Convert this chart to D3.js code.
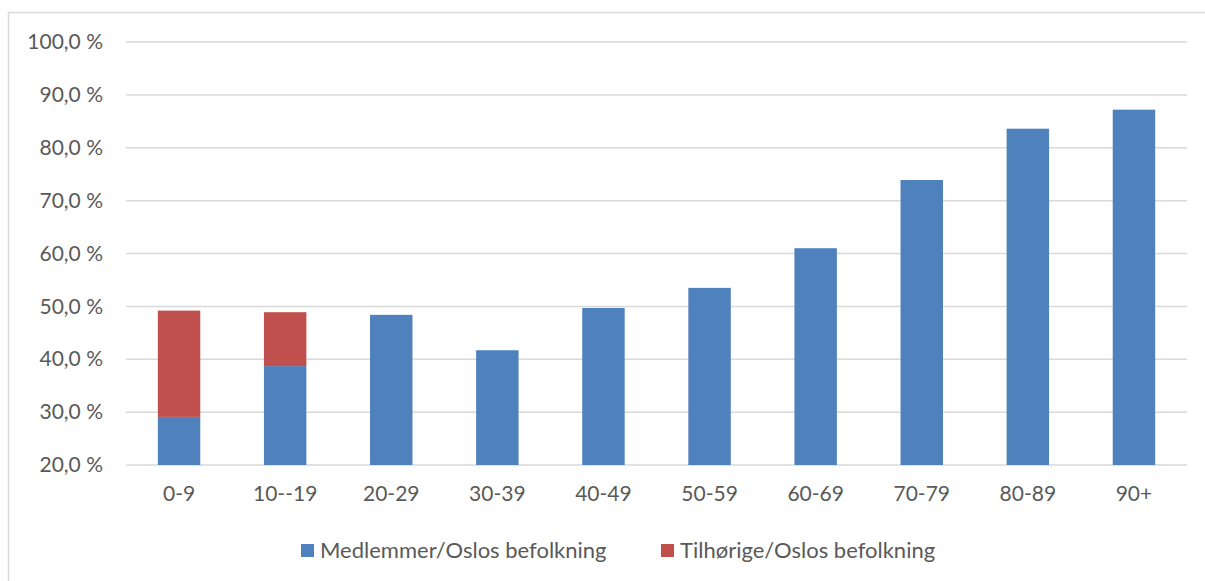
<html lang="no">
<head>
<meta charset="UTF-8">
<title>Medlemmer og tilhørige</title>
<style>
    body { margin: 0; background: #fff; }
    text { font-family: Lato, "Open Sans", sans-serif; fill: #595959; }
    .grid line { stroke: #d9d9d9; stroke-width: 1.5px; }
</style>
</head>
<body>
<svg width="1205" height="581"></svg>
<script src="https://d3js.org/d3.v7.min.js"></script>
<script>
(function () {
    'use strict';

    var categories = ["0-9", "10--19", "20-29", "30-39", "40-49", "50-59", "60-69", "70-79", "80-89", "90+"];
    var medlemmer = [29.1, 38.7, 48.4, 41.7, 49.7, 53.5, 61.0, 73.9, 83.6, 87.2];
    var tilhorige = [20.1, 10.2, 0, 0, 0, 0, 0, 0, 0, 0];
    var yTicks = [20, 30, 40, 50, 60, 70, 80, 90, 100];
    var seriesNames = ["Medlemmer/Oslos befolkning", "Tilhørige/Oslos befolkning"];
    var colors = ["#4f81bd", "#c0504d"];

    var svg = d3.select("svg");

    // chart frame
    svg.append("rect")
        .attr("x", 8.5).attr("y", 12.5)
        .attr("width", 1210).attr("height", 600)
        .attr("fill", "none")
        .attr("stroke", "#d9d9d9")
        .attr("stroke-width", 1.5);

    var left = 126, right = 1187, top = 42, bottom = 465;

    var x = d3.scaleBand().domain(categories).range([left, right]).paddingInner(0.6).paddingOuter(0.3);
    var y = d3.scaleLinear().domain([20, 100]).range([bottom, top]);

    // gridlines
    svg.append("g").attr("class", "grid")
        .selectAll("line")
        .data(yTicks)
        .enter()
        .append("line")
        .attr("x1", left).attr("x2", right)
        .attr("y1", function (d) { return y(d); })
        .attr("y2", function (d) { return y(d); });

    // y axis labels
    var yAxis = d3.axisLeft(y).tickValues(yTicks).tickSize(0).tickPadding(0)
        .tickFormat(function (d) { return d3.format(".1f")(d).replace(".", ",") + " %"; });
    var ya = svg.append("g").attr("transform", "translate(103,0)").call(yAxis);
    ya.select(".domain").remove();
    ya.selectAll("text").style("font-size", "21px").attr("font-family", null).attr("fill", "#595959");

    // x axis labels
    var xAxis = d3.axisBottom(x).tickSize(0).tickPadding(0);
    var xa = svg.append("g").attr("transform", "translate(0,486)").call(xAxis);
    xa.select(".domain").remove();
    xa.selectAll("text").style("font-size", "21px").attr("font-family", null).attr("fill", "#595959");

    // stacked bars (axis starts at 20 %, so clip the base there)
    var rows = categories.map(function (c, i) {
        return { cat: c, m: medlemmer[i], t: tilhorige[i] };
    });
    var layers = d3.stack().keys(["m", "t"])(rows);
    var ymin = y.domain()[0];

    svg.append("g").selectAll("g")
        .data(layers)
        .enter()
        .append("g")
        .attr("fill", function (d, i) { return colors[i]; })
        .selectAll("rect")
        .data(function (d) { return d.filter(function (p) { return p[1] > p[0]; }); })
        .enter()
        .append("rect")
        .attr("x", function (d) { return x(d.data.cat); })
        .attr("width", x.bandwidth())
        .attr("y", function (d) { return y(d[1]); })
        .attr("height", function (d) {
            return y(Math.max(d[0], ymin)) - y(d[1]);
        });

    // legend
    var legendX = [301, 661];
    var lg = svg.append("g").selectAll("g")
        .data(seriesNames)
        .enter()
        .append("g")
        .attr("transform", function (d, i) { return "translate(" + legendX[i] + ",544)"; });
    lg.append("rect").attr("width", 13).attr("height", 13)
        .attr("fill", function (d, i) { return colors[i]; });
    lg.append("text")
        .attr("x", 19).attr("y", 14)
        .style("font-size", "22px")
        .text(function (d) { return d; });
})();
</script>
</body>
</html>
